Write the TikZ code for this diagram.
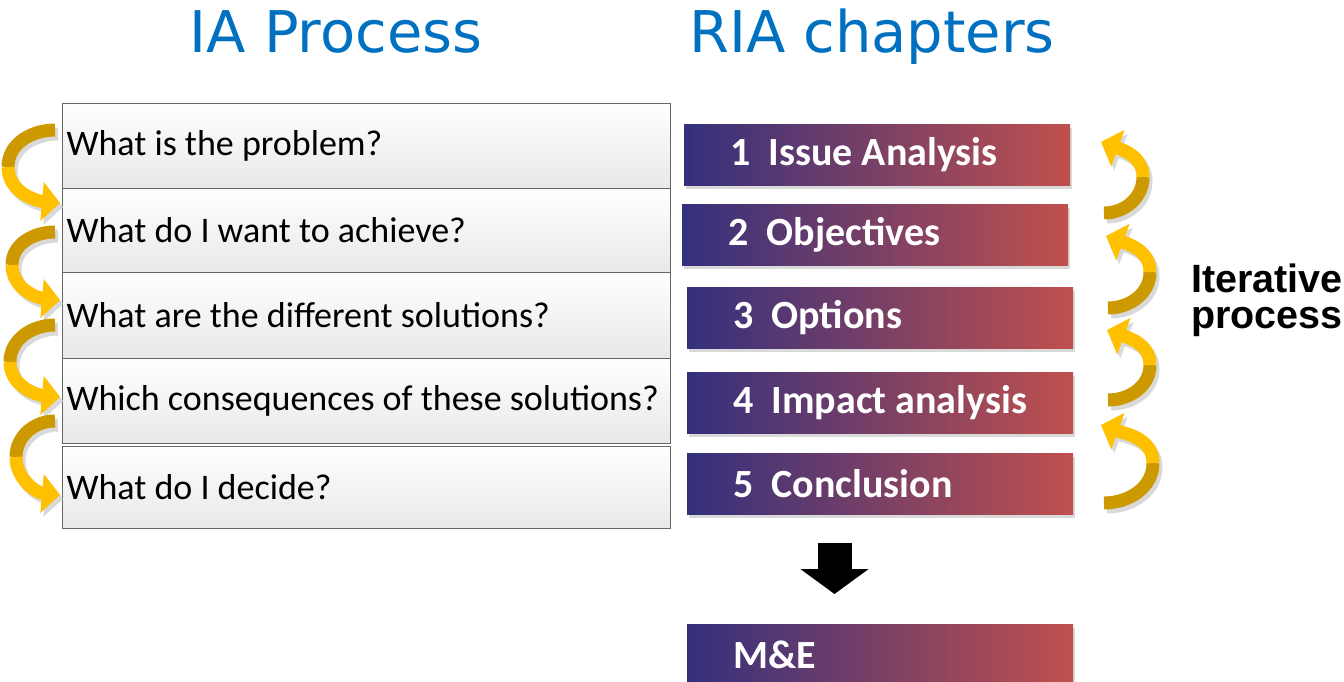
\documentclass[tikz,border=0pt]{standalone}
\usepackage{fontspec}
\setmainfont{Carlito}
\newfontfamily\headfont{DejaVu Sans}
\newfontfamily\arialfont{Liberation Sans}
\usetikzlibrary{arrows.meta,shadows}
\definecolor{iablue}{RGB}{0,112,192}
\definecolor{chleft}{RGB}{52,48,125}
\definecolor{chright}{RGB}{192,80,77}
\definecolor{golddark}{RGB}{204,153,0}
\definecolor{goldlight}{RGB}{255,192,0}
\tikzset{
  qrow/.style={draw=black!60, line width=1pt, top color=white, bottom color=black!9,
    anchor=north west, inner xsep=4pt, minimum height=85pt,
    execute at begin node={\hbox to 600pt\bgroup}, execute at end node={\hfil\egroup},
    font=\fontsize{36}{40}\selectfont},
  chapbox/.style={anchor=north west, left color=chleft, right color=chright,
    minimum width=386pt, minimum height=61pt, inner xsep=46pt,
    execute at begin node={\hbox to 294pt\bgroup}, execute at end node={\hfil\egroup},
    text=white, font=\fontsize{40}{44}\selectfont\bfseries,
    drop shadow={shadow xshift=2pt, shadow yshift=-4pt, opacity=0.3}},
  heading/.style={anchor=base, text=iablue, font=\headfont\fontsize{57.5}{62}\selectfont},
  curlshade/.style={draw=black!15, line width=13pt, -{Triangle[width=38pt,length=18pt]}},
  curldark/.style={draw=golddark, line width=13pt},
  curllight/.style={draw=goldlight, line width=13pt, -{Triangle[width=38pt,length=18pt]}},
}
\begin{document}
\begin{tikzpicture}[x=1pt, y=1pt]
  \useasboundingbox (0,0) rectangle (1344,-681);
  % headings
  \node[heading] (iahead) at (336,-52) {IA Process};
  \node[heading] (riahead) at (872,-52) {RIA chapters};
  % IA process questions
  \node[qrow] (q1) at (62,-103) {What is the problem?};
  \node[qrow, minimum height=84pt] (q2) at (62,-188) {What do I want to achieve?};
  \node[qrow, minimum height=86pt] (q3) at (62,-272) {What are the different solutions?};
  \node[qrow] (q4) at (62,-358) {Which consequences of these solutions?};
  \node[qrow, minimum height=82pt] (q5) at (62,-446) {What do I decide?};
  % RIA chapters
  \node[chapbox] (c1) at (684,-124) {1~~Issue Analysis};
  \node[chapbox] (c2) at (682,-204) {2~~Objectives};
  \node[chapbox] (c3) at (687,-287) {3~~Options};
  \node[chapbox] (c4) at (687,-372) {4~~Impact analysis};
  \node[chapbox] (c5) at (687,-453) {5~~Conclusion};
  \node[chapbox] (me) at (687,-624) {M\&E};
  \node[anchor=base west, align=left, inner sep=0pt, font=\arialfont\bfseries\fontsize{39.5}{36}\selectfont]
    (iter) at (1191,-328) {Iterative\\process};
  % down arrow
  \coordinate (down1) at (834.5,-543);
  \coordinate (down2) at (834.5,-594);
  \draw[line width=34pt, -{Triangle[width=67pt,length=25pt]}] (down1) -- (down2);
  % curls on the left
  \foreach \i/\ya/\xb/\yb/\yc in {1/130/8/167/203, 2/232/12/265/300, 3/325/10/362/397, 4/421/16/457/495} {
    \coordinate (lt\i) at (55,-\ya);
    \coordinate (lm\i) at (\xb,-\yb);
    \coordinate (lh\i) at (60,-\yc);
    \draw[curlshade] ([shift={(3,-4)}]lt\i) to[out=180,in=90] ([shift={(3,-4)}]lm\i)
      to[out=-90,in=175] ([shift={(3,-4)}]lh\i);
    \draw[curldark] (lt\i) to[out=180,in=90] (lm\i);
    \draw[curllight] (lm\i) to[out=-90,in=175] (lh\i);
  }
  % curls on the right
  \foreach \i/\xa/\ya/\xb/\yb/\xc/\yc in {1/1104/213/1143/177/1101/142, 2/1108/308/1150/272/1106/236,
      3/1108/400/1150/365/1107/330, 4/1104/503/1153/463/1101/425} {
    \coordinate (rt\i) at (\xa,-\ya);
    \coordinate (rm\i) at (\xb,-\yb);
    \coordinate (rh\i) at (\xc,-\yc);
    \draw[curlshade] ([shift={(3,-4)}]rt\i) to[out=0,in=-90] ([shift={(3,-4)}]rm\i)
      to[out=90,in=-20] ([shift={(3,-4)}]rh\i);
    \draw[curldark] (rt\i) to[out=0,in=-90] (rm\i);
    \draw[curllight] (rm\i) to[out=90,in=-20] (rh\i);
  }
\end{tikzpicture}
\end{document}
